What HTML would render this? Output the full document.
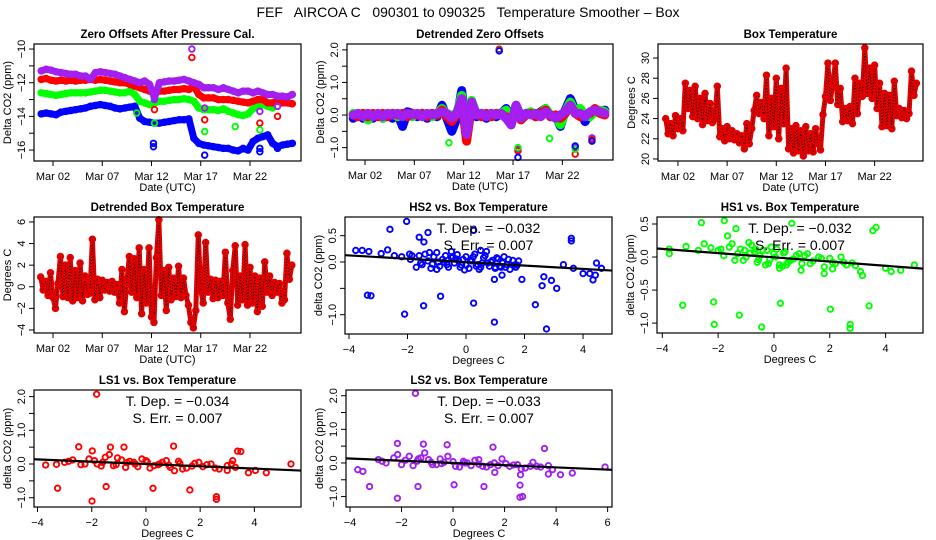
<!DOCTYPE html>
<html><head><meta charset="utf-8"><title>FEF AIRCOA C Temperature Smoother</title>
<style>
html,body{margin:0;padding:0;background:#fff;}
svg{display:block;font-family:"Liberation Sans",sans-serif;}
#main-title{white-space:pre;}
</style></head>
<body>
<svg id="chart" width="936" height="540" viewBox="0 0 936 540" xmlns="http://www.w3.org/2000/svg">
<rect x="0" y="0" width="936" height="540" fill="#fff"/>
<text id="main-title" x="468" y="17" text-anchor="middle" font-size="14" xml:space="preserve">FEF   AIRCOA C   090301 to 090325   Temperature Smoother – Box</text>
</svg>
<script>
// ---------- DATA ----------
const bandDays=[0.8,1.3,1.8,2.3,2.8,3.3,3.8,4.3,4.8,5.3,5.8,6.3,6.8,7.3,7.8,8.3,8.8,9.3,9.8,10.3,10.8,11.3,11.8,12.3,12.8,13.3,13.8,14.3,14.8,15.3,15.8,16.3,16.8,17.3,17.8,18.3,18.8,19.3,19.8,20.3,20.8,21.3,21.8,22.3,22.8,23.3,23.8,24.3,24.8,25.3,25.8,26.3];
const zoPurple=[-11.3,-11.2,-11.25,-11.35,-11.4,-11.45,-11.5,-11.5,-11.6,-11.6,-11.8,-11.4,-11.35,-11.4,-11.45,-11.5,-11.6,-11.7,-11.8,-11.9,-12.0,-11.9,-12.1,-12.9,-12.0,-11.95,-11.9,-11.9,-11.85,-11.8,-11.9,-12.0,-12.1,-12.3,-12.3,-12.3,-12.4,-12.3,-12.4,-12.5,-12.6,-12.5,-12.5,-12.6,-12.5,-12.6,-12.7,-12.7,-12.8,-12.8,-12.85,-12.7];
const zoRed=[-11.8,-11.75,-11.85,-11.9,-11.85,-11.9,-11.85,-11.9,-11.85,-11.85,-11.8,-11.85,-11.8,-11.85,-11.9,-11.95,-12.0,-12.0,-12.1,-12.2,-12.3,-12.4,-12.5,-12.6,-12.5,-12.5,-12.45,-12.4,-12.4,-12.35,-12.4,-12.2,-12.7,-12.9,-12.9,-12.9,-13.0,-13.0,-13.0,-13.05,-13.1,-13.15,-13.2,-13.1,-13.0,-13.0,-13.2,-13.2,-13.1,-13.2,-13.2,-13.25];
const zoGreen=[-12.6,-12.65,-12.7,-12.75,-12.7,-12.65,-12.6,-12.6,-12.6,-12.6,-12.55,-12.5,-12.45,-12.45,-12.5,-12.55,-12.6,-12.6,-12.5,-12.7,-13.1,-13.2,-13.3,-13.2,-13.1,-13.1,-13.05,-13.0,-13.0,-12.95,-13.0,-13.1,-13.5,-13.6,-13.6,-13.6,-13.65,-13.55,-13.7,-13.8,-13.9,-13.95,-13.85,-13.55,-13.4,-13.3,-13.4,-13.5,null,null,null,null];
const zoBlue=[-13.85,-13.8,-13.85,-13.9,-13.75,-13.7,-13.65,-13.6,-13.55,-13.5,-13.4,-13.35,-13.3,-13.35,-13.4,-13.5,-13.55,-13.5,-13.45,-13.4,-14.1,-14.3,-14.35,-14.4,-14.4,-14.35,-14.3,-14.25,-14.2,-14.2,-14.15,-15.3,-15.6,-15.7,-15.75,-15.8,-15.85,-15.9,-15.9,-16.0,-16.05,-15.9,-16.0,-15.5,-15.3,-15.2,-15.1,-15.6,-15.8,-15.7,-15.65,-15.6];
const zoOutDays=[16.1,12.3,17.4,17.4,23.0,24.8, 16.1,12.3,17.4,23.0,24.8, 10.5,12.3,17.4,20.5,23.0, 12.2,12.2,17.4,23.0,23.0,24.8];
const zoOutVals=[-10.0,-13.0,-13.5,-12.3,-13.7,-13.4, -10.5,-13.6,-14.2,-14.4,-14.0, -13.8,-14.4,-14.9,-14.6,-14.8, -15.6,-15.8,-16.3,-15.9,-16.1,-15.9];
const zoOutSeries=["purple","purple","purple","purple","purple","purple","red","red","red","red","red","green","green","green","green","green","blue","blue","blue","blue","blue","blue"];

const dtPurple=[0,0.05,-0.05,0.05,-0.05,0.05,-0.05,0.05,0,0.05,-0.05,0.05,0,0.05,-0.05,0.05,0,0.05,0.1,0.05,-0.1,0.05,0.5,-0.6,0.4,0,0.05,-0.05,0.05,0,0.05,-0.1,-0.3,0.3,-0.1,0.05,0,0.05,-0.05,0.1,0,-0.1,0,0.1,0.3,0.05,0.05,-0.05,0.1,0.15,0.1,0.05];
const dtRed=[0,-0.05,0.05,-0.05,0.05,-0.05,0.05,-0.05,0.05,0,0.05,-0.05,0.05,0,0.05,-0.05,0.05,0,0.15,-0.05,-0.2,0.05,0.45,-0.8,0.3,0.05,-0.05,0.05,-0.05,0.05,0,-0.05,-0.25,0.25,-0.15,0,0.05,-0.05,0.05,0.15,-0.05,0,-0.1,0.05,0.3,0.05,-0.05,0,0.05,0.2,0.05,0];
const dtGreen=[0.05,0,0.05,-0.15,0,0.05,-0.1,0,0.05,-0.05,0,0.05,-0.05,0.05,0,0.05,-0.05,0.05,0.2,0,0,0.05,0.6,-0.7,0.45,0,0.05,0,-0.05,0.05,0.05,0.15,-0.25,0.25,-0.1,0.05,0.1,0,0.05,0.2,0,-0.05,-0.3,0.1,0.4,0.1,0.2,0,-0.05,0.1,0.15,0.1];
const dtBlue=[-0.1,0.05,-0.1,0.05,-0.1,0.05,-0.1,0.05,-0.1,0.05,-0.35,0.1,0.05,-0.05,0.05,-0.1,0.05,-0.05,0.3,-0.1,-0.5,-0.1,0.75,-0.65,0.4,-0.05,0.05,-0.1,0.05,-0.05,0.05,0.2,-0.3,0.3,-0.05,0,0.05,-0.05,0.1,0.2,-0.05,0,-0.35,0.15,0.5,0.15,0.1,-0.2,0.05,0.1,0.1,0.15];
const dtOutDays=[15.6,17.5,23.3,25.0, 15.6,17.5,23.3,25.0, 10.5,15.6,17.5,20.7,23.3, 15.6,17.5,23.3,25.0];
const dtOutVals=[2.0,-1.05,-1.0,-0.7, 2.02,-1.1,-1.2,-0.75, -0.85,1.98,-1.0,-0.72,-1.05, 1.97,-1.3,-0.95,-0.8];
const dtOutSeries=["purple","purple","purple","purple","red","red","red","red","green","green","green","green","green","blue","blue","blue","blue"];

const tDays=[0.75,1,1.25,1.5,1.75,2,2.25,2.5,2.75,3,3.25,3.5,3.75,4,4.25,4.5,4.75,5,5.25,5.5,5.75,6,6.25,6.5,6.75,7,7.25,7.5,7.75,8,8.25,8.5,8.75,9,9.25,9.5,9.75,10,10.25,10.5,10.75,11,11.25,11.5,11.75,12,12.25,12.5,12.75,13,13.25,13.5,13.75,14,14.25,14.5,14.75,15,15.25,15.5,15.75,16,16.25,16.5,16.75,17,17.25,17.5,17.75,18,18.25,18.5,18.75,19,19.25,19.5,19.75,20,20.25,20.5,20.75,21,21.25,21.5,21.75,22,22.25,22.5,22.75,23,23.25,23.5,23.75,24,24.25,24.5,24.75,25,25.25,25.5,25.75,26,26.25];
const boxTemp=[24,22.5,23.5,22.3,24.3,23,24,22.8,27.5,25,26.8,24.2,27.2,24,26,23.4,26.5,23.8,25.5,23.6,24,27.2,22.2,23,21.8,23.2,22,22.8,21.9,22.5,21.6,22.3,21,23.5,21.5,23,24.8,26.3,24.5,25.6,24,28.3,22.3,26,23.2,28,22,27,23.5,29,21,23,20.6,23.3,20.8,22.8,20.3,23.2,20.8,22.5,20.7,23,21.5,20.9,24.4,26.2,29.5,25.8,27.5,29.5,25.4,27,23.7,25,23.8,25.2,23.5,28,24.5,27.5,26.2,31,26.5,29,26,29.3,25,27.5,23.2,26.5,23.3,26.3,23,27.7,24.3,25,24.1,24.8,24,24.5,28.7,26.3,27.5];
const detTemp=[0.9,-0.3,0.5,-0.8,1.3,-1.0,-2.0,0.3,2.8,-0.9,2.0,-1.0,2.7,-1.3,1.5,-1.0,2.2,-1.3,1.0,-0.7,-0.6,4.4,-1.2,0.7,-1.0,0.6,-0.3,0.4,-0.4,0.5,-0.5,0.2,-1.5,1.6,-2.3,0.5,2.8,-0.5,2.6,-1.0,3.6,-2.5,1.6,-1.5,3.6,-2.8,-3.3,2.7,6.2,-0.8,1.5,-2.2,1.8,-1.2,0.8,-0.9,1.9,-1.0,0.8,-0.8,-1.7,-3.3,-3.8,-2.2,4.8,-0.3,-1.5,4.1,-0.5,0.7,-1.1,0.6,-1.0,0.5,-0.8,3.2,-1.5,-3.0,1.5,3.8,-1.7,1.0,-1.2,3.9,-1.7,1.8,-1.5,1.0,-2.3,0.8,-1.8,2.3,-0.5,1.0,-0.8,0.4,-0.5,0.3,-1.5,-1.2,3.1,0.7,2.0];

// scatter: HS2 (blue)
const hs2X=[-2.03,-2.6,-1.3,-1.6,-1.44,0.26,3.6,3.6,-3.37,-3.25,-2.1,-1.45,-0.87,0.26,0.97,0.97,1.23,1.91,2.37,2.6,2.66,2.92,3.1,2.75,4.0,4.23,4.34,4.42,4.46,4.63,3.67,3.33,-3.77,-3.55,-3.32,-2.9,-2.68,-2.45,-2.2,-1.93,
-1.9,-1.7,-1.6,-1.5,-1.4,-1.3,-1.2,-1.1,-1.0,-0.9,-0.8,-0.7,-0.6,-0.5,-0.4,-0.3,-0.2,-0.1,0,0.1,0.2,0.3,0.4,0.5,0.6,0.7,0.8,0.9,1.0,1.1,1.2,1.3,1.4,1.5,1.6,1.7,1.8,-1.85,-1.55,-1.25,-0.95,-0.65,-0.35,-0.05,0.25,0.55,0.85,1.15,1.45,1.75,-1.0,-0.5,0,0.5,1.0,
-0.75,-0.45,-0.15,0.15,0.45,0.75,1.05,1.35,-1.15,-0.25,0.35,0.65,1.25,1.65];
const hs2Y=[0.77,0.62,0.56,0.47,0.38,0.6,0.45,0.4,-0.63,-0.64,-0.99,-0.83,-0.65,-0.78,-0.33,-1.14,-0.25,-0.33,-0.81,-0.45,-0.28,-0.35,-0.5,-1.27,-0.22,-0.22,-0.34,-0.25,-0.02,-0.12,-0.12,-0.05,0.22,0.22,0.2,0.16,0.23,0.12,0.1,0.15,
0.05,-0.1,0.12,-0.05,0.15,0.02,-0.12,0.1,0.18,-0.08,0.05,0.12,-0.1,0.08,-0.02,0.14,-0.1,0.05,0.1,-0.12,0.02,0.15,-0.05,-0.1,0.08,0.2,-0.08,0.03,-0.12,0.06,-0.1,0.1,-0.05,-0.14,0.03,-0.1,0.02,0.12,-0.02,0.18,0.0,-0.05,0.06,-0.15,0.1,-0.02,0.0,-0.08,0.05,-0.06,-0.14,0.2,-0.06,0.22,-0.1,
0.0,0.1,-0.06,0.04,-0.14,-0.02,0.08,-0.1,-0.04,0.02,-0.08,0.12,-0.02,-0.06];
const hs2Stats=[-0.032,0.007,-0.003];
// HS1 (green)
const hs1X=[-2.6,-1.78,-1.66,-1.36,-3.27,-2.16,-2.14,-1.24,-0.44,0.23,2.02,2.73,2.73,3.41,3.54,3.66,0.64,-3.75,-3.75,-3.15,-2.71,5.03,4.54,4.2,4.0,3.17,3.1,2.92,2.8,2.1,0.97,0.2,1.8,-2.5,-2.26,
-2.0,-1.8,-1.6,-1.4,-1.2,-1.0,-0.8,-0.6,-0.4,-0.2,0,0.2,0.4,0.6,0.8,1.0,1.2,1.4,1.6,1.8,2.0,2.2,2.4,2.6,-1.9,-1.5,-1.1,-0.7,-0.3,0.1,0.5,0.9,1.3,1.7,2.1,2.5,-1.3,-0.9,-0.5,-0.1,0.3,0.7,
-0.85,-0.55,-0.25,0.05,0.35,-1.05,-0.65,-0.15,0.45,1.1];
const hs1Y=[0.52,0.55,0.32,0.43,-0.73,-0.68,-1.02,-0.88,-1.06,-0.7,-0.79,-1.02,-1.08,-0.74,0.4,0.45,0.51,0.12,0.05,0.16,0.1,-0.12,-0.2,-0.22,-0.17,-0.28,-0.22,-0.13,-0.09,-0.08,-0.2,-0.17,-0.25,0.2,0.14,
0.1,0.02,0.15,-0.05,0.12,0.0,0.18,-0.08,0.1,-0.1,0.05,-0.12,0.08,-0.05,0.02,-0.1,0.05,-0.06,0.0,-0.15,-0.02,-0.1,0.0,-0.12,0.12,0.2,-0.05,0.08,-0.12,0.12,-0.08,0.05,-0.1,-0.02,-0.18,-0.08,0.05,0.22,0.02,0.15,-0.14,-0.03,
0.06,-0.04,0.1,0.0,0.06,0.1,0.12,-0.04,-0.12,0.02];
const hs1Stats=[-0.032,0.007,-0.005];
// LS1 (red)
const ls1X=[-1.82,-3.26,-1.47,0.26,1.62,2.6,2.6,-1.99,-2.48,-1.31,-0.81,1.02,3.38,3.5,3.78,4.04,4.44,5.35,-3.7,-3.3,-1.98,3.0,3.2,
-3.0,-2.7,-2.4,-2.1,-1.8,-1.5,-1.2,-0.9,-0.6,-0.3,0,0.3,0.6,0.9,1.2,1.5,1.8,2.1,2.4,2.7,3.0,3.3,-2.85,-2.25,-1.65,-1.05,-0.45,0.15,0.75,1.35,1.95,2.55,3.15,-1.35,-0.75,-0.15,0.45,1.05,
-1.9,-1.6,-1.1,-0.7,-0.4,0.05,0.5,0.85,1.25,1.7,2.25];
const ls1Y=[2.07,-0.72,-0.67,-0.72,-0.77,-0.97,-1.05,-1.1,0.51,0.5,0.5,0.53,0.38,0.37,-0.26,-0.19,-0.26,0.0,-0.03,-0.01,0.39,-0.19,0.1,
0.05,0.12,-0.02,0.15,0.0,0.2,-0.05,0.12,0.08,-0.08,0.1,-0.05,0.05,-0.1,0.08,-0.12,0.02,-0.08,0.0,-0.15,-0.05,-0.1,0.08,0.0,-0.06,0.18,0.05,-0.12,0.1,-0.15,0.05,-0.12,0.0,0.28,-0.1,0.15,-0.02,-0.2,
0.1,0.05,-0.02,0.04,0.0,0.06,0.0,-0.04,0.02,-0.06,-0.02];
const ls1Stats=[-0.034,0.007,0.0];
// LS2 (purple)
const ls2X=[-1.46,-2.16,-1.15,-0.23,1.55,3.55,-3.24,-1.36,-2.16,0.04,1.2,2.6,2.6,2.7,3.7,4.17,4.63,5.9,3.86,-3.7,-3.5,1.62,2.62,
-2.9,-2.6,-2.3,-2.0,-1.7,-1.4,-1.1,-0.8,-0.5,-0.2,0.1,0.4,0.7,1.0,1.3,1.6,1.9,2.2,2.5,2.8,3.1,3.4,3.7,-2.75,-2.15,-1.55,-0.95,-0.35,0.25,0.85,1.45,2.05,2.65,3.25,-1.25,-0.65,0.55,1.15,
-1.85,-1.35,-0.85,-0.45,0.0,0.45,1.0,1.75,2.35,3.0];
const ls2Y=[2.07,0.58,0.56,0.54,0.47,0.43,-0.7,-0.7,-1.05,-0.65,-0.7,-0.66,-1.02,-1.0,-0.33,-0.35,-0.3,-0.12,-0.2,-0.2,-0.25,-0.28,-0.35,
0.1,0.0,0.15,-0.05,0.2,0.05,0.3,-0.05,0.12,0.2,-0.1,0.05,-0.08,0.1,-0.12,0.0,0.12,-0.1,-0.05,-0.15,0.02,-0.12,-0.08,0.05,0.25,-0.08,0.1,0.02,-0.12,0.08,-0.05,-0.02,-0.18,-0.1,0.15,-0.05,0.0,-0.1,
0.08,0.12,0.02,-0.02,0.04,0.0,-0.04,-0.08,-0.06,-0.1];
const ls2Stats=[-0.033,0.007,0.0];

const dateTicks=[2,7,12,17,22];
const dateLabels=["Mar 02","Mar 07","Mar 12","Mar 17","Mar 22"];

// ---------- DRAWING ----------
const NS='http://www.w3.org/2000/svg';
const svg=document.getElementById('chart');
const COL={purple:'#a020f0',red:'#ff0000',green:'#00ff00',blue:'#0000ff'};
function add(tag,parent){const e=document.createElementNS(NS,tag);parent.appendChild(e);return e;}

function panel(name,box,xd,yd){
  const g=add('g',svg);
  
  
  const [l,t,r,b]=box;
  const sx=v=>l+(v-xd[0])/(xd[1]-xd[0])*(r-l);
  const sy=v=>b-(v-yd[0])/(yd[1]-yd[0])*(b-t);
  return {g,l,t,r,b,sx,sy};
}
function frame(p,title){
  const rc=add('rect',p.g);
  rc.setAttribute('x',p.l);rc.setAttribute('y',p.t);rc.setAttribute('width',p.r-p.l);rc.setAttribute('height',p.b-p.t);
  rc.setAttribute('fill','none');rc.setAttribute('stroke','#000');rc.setAttribute('stroke-width','1.2');
  
  
  const tt=add('text',p.g);
  tt.setAttribute('x',(p.l+p.r)/2);tt.setAttribute('y',p.t-6);tt.setAttribute('text-anchor','middle');
  tt.setAttribute('font-size','11.5');tt.setAttribute('font-weight','bold');
  tt.textContent=title;
  
  
}
function xAxis(p,ticks,labels,title){
  ticks.forEach((v,i)=>{
    const x=p.sx(v);
    const ln=add('line',p.g);
    ln.setAttribute('x1',x);ln.setAttribute('x2',x);ln.setAttribute('y1',p.b);ln.setAttribute('y2',p.b+5);ln.setAttribute('stroke','#000');
    
    
    const tx=add('text',p.g);
    tx.setAttribute('x',x);tx.setAttribute('y',p.b+19);tx.setAttribute('text-anchor','middle');tx.setAttribute('font-size','11');
    tx.textContent=labels[i];
    
    
  });
  const at=add('text',p.g);
  at.setAttribute('x',(p.l+p.r)/2);at.setAttribute('y',p.b+30);at.setAttribute('text-anchor','middle');at.setAttribute('font-size','11');
  at.textContent=title;
  
  
}
function yAxis(p,ticks,labels,title){
  ticks.forEach((v,i)=>{
    const y=p.sy(v);
    const ln=add('line',p.g);
    ln.setAttribute('x1',p.l-5);ln.setAttribute('x2',p.l);ln.setAttribute('y1',y);ln.setAttribute('y2',y);ln.setAttribute('stroke','#000');
    
    
    if(labels[i]!==''){
      const tx=add('text',p.g);
      const xx=p.l-9;
      tx.setAttribute('x',xx);tx.setAttribute('y',y);tx.setAttribute('text-anchor','middle');tx.setAttribute('font-size','11');
      tx.setAttribute('transform','rotate(-90 '+xx+' '+y+')');
      tx.textContent=labels[i];
      
      
    }
  });
  const at=add('text',p.g);
  const ax=p.l-23, ay=(p.t+p.b)/2;
  at.setAttribute('x',ax);at.setAttribute('y',ay);at.setAttribute('text-anchor','middle');at.setAttribute('font-size','11');
  at.setAttribute('transform','rotate(-90 '+ax+' '+ay+')');
  at.textContent=title;
  
  
}
function dot(p,x,y,color,name,r){
  const c=add('circle',p.g);
  c.setAttribute('cx',p.sx(x));c.setAttribute('cy',p.sy(y));c.setAttribute('r',r||2.6);
  c.setAttribute('fill','none');c.setAttribute('stroke',color);c.setAttribute('stroke-width','1.9');
  
  
}
function band(p,xs,ys,color,name,w,dark){
  let d='';let pen=false;
  xs.forEach((x,i)=>{const y=ys[i]; if(y===null){pen=false;return;} d+=(pen?'L':'M')+p.sx(x).toFixed(1)+' '+p.sy(y).toFixed(1)+' '; pen=true;});
  const pa=add('path',p.g);
  pa.setAttribute('d',d);pa.setAttribute('fill','none');pa.setAttribute('stroke',color);pa.setAttribute('stroke-width',w);
  pa.setAttribute('stroke-linejoin','round');pa.setAttribute('stroke-linecap','round');
  
  
  if(dark){
    const pb=add('path',p.g);
    pb.setAttribute('d',d);pb.setAttribute('fill','none');pb.setAttribute('stroke',dark);pb.setAttribute('stroke-width','1');
    pb.setAttribute('stroke-dasharray','1 2');
    
    
  }
  xs.forEach((x,i)=>{ if(ys[i]!==null) dot(p,x,ys[i],color,name+'-point',2.8); });
}
function scatter(p,xs,ys,color,name,stats){
  xs.forEach((x,i)=>dot(p,x,ys[i],color,name,2.7));
  const inv=px=>{let lo=-100,hi=100; for(let k=0;k<60;k++){const m=(lo+hi)/2; if(p.sx(m)<px) lo=m; else hi=m;} return lo; };
  const xa=inv(p.l), xb=inv(p.r);
  const ln=add('line',p.g);
  ln.setAttribute('x1',p.sx(xa));ln.setAttribute('y1',p.sy(stats[2]+stats[0]*xa));
  ln.setAttribute('x2',p.sx(xb));ln.setAttribute('y2',p.sy(stats[2]+stats[0]*xb));
  ln.setAttribute('stroke','#000');ln.setAttribute('stroke-width','2.2');
  
  
  const t1=add('text',p.g);
  t1.setAttribute('x',(p.l+p.r)/2+10);t1.setAttribute('y',p.t+16);t1.setAttribute('text-anchor','middle');t1.setAttribute('font-size','14');
  t1.setAttribute('xml:space','preserve');
  t1.textContent='T. Dep. =  '+(stats[0]<0?'\u2212':'')+Math.abs(stats[0]).toFixed(3);
  
  
  const t2=add('text',p.g);
  t2.setAttribute('x',(p.l+p.r)/2+10);t2.setAttribute('y',p.t+33);t2.setAttribute('text-anchor','middle');t2.setAttribute('font-size','14');
  t2.textContent='S. Err. = '+stats[1].toFixed(3);
  
  
}

// Panel 1
const p1=panel('zero-offsets-panel',[34,44,301,161],[0.07,27.18],[-16.65,-9.70]);
band(p1,bandDays,zoBlue,COL.blue,'blue-offset',7);
band(p1,bandDays,zoGreen,COL.green,'green-offset',7);
band(p1,bandDays,zoRed,COL.red,'red-offset',7);
band(p1,bandDays,zoPurple,COL.purple,'purple-offset',7,'#ff00ff');
zoOutDays.forEach((d,i)=>dot(p1,d,zoOutVals[i],COL[zoOutSeries[i]],'offset-outlier',2.8));
frame(p1,'Zero Offsets After Pressure Cal.');
xAxis(p1,dateTicks,dateLabels,'Date (UTC)');
yAxis(p1,[-10,-11,-12,-13,-14,-15,-16],['\u221210','','\u221212','','\u221214','','\u221216'],'Delta CO2 (ppm)');

// Panel 2
const p2=panel('detrended-zero-offsets-panel',[347,44,613,160],[0.176,27.13],[-1.38,2.18]);
band(p2,bandDays,dtBlue,COL.blue,'blue-detrended',9);
band(p2,bandDays,dtGreen,COL.green,'green-detrended',9);
band(p2,bandDays,dtRed,COL.red,'red-detrended',9);
band(p2,bandDays,dtPurple,COL.purple,'purple-detrended',9,'#ff00ff');
dtOutDays.forEach((d,i)=>dot(p2,d,dtOutVals[i],COL[dtOutSeries[i]],'detrended-outlier',2.8));
frame(p2,'Detrended Zero Offsets');
xAxis(p2,dateTicks,dateLabels,'Date (UTC)');
yAxis(p2,[2,1.5,1,0.5,0,-0.5,-1],['2.0','','1.0','','0.0','','\u22121.0'],'Delta CO2 (ppm)');

// Panel 3
const p3=panel('box-temperature-panel',[658,44,923,161],[-0.03,26.92],[19.8,31.39]);
band(p3,tDays,boxTemp,'#e00000','box-temperature',5,'#000');
frame(p3,'Box Temperature');
xAxis(p3,dateTicks,dateLabels,'Date (UTC)');
yAxis(p3,[20,22,24,26,28,30],['20','22','24','26','28','30'],'Degrees C');

// Panel 4
const p4=panel('detrended-box-temperature-panel',[34,217,301,333],[0.07,27.18],[-4.28,6.46]);
band(p4,tDays,detTemp,'#e00000','detrended-temperature',5,'#000');
frame(p4,'Detrended Box Temperature');
xAxis(p4,dateTicks,dateLabels,'Date (UTC)');
yAxis(p4,[-4,-2,0,2,4,6],['\u22124','\u22122','0','2','4','6'],'Degrees C');

// Panel 5 HS2
const p5=panel('hs2-vs-temperature-panel',[345,217,612,334],[-4.137,4.99],[-1.366,0.854]);
scatter(p5,hs2X,hs2Y,COL.blue,'hs2-point',hs2Stats);
frame(p5,'HS2 vs. Box Temperature');
xAxis(p5,[-4,-2,0,2,4],['\u22124','\u22122','0','2','4'],'Degrees C');
yAxis(p5,[0.5,0,-0.5,-1],['0.5','0.0','','\u22121.0'],'delta CO2 (ppm)');

// Panel 6 HS1
const p6=panel('hs1-vs-temperature-panel',[657,217,923,333],[-4.19,5.34],[-1.15,0.606]);
scatter(p6,hs1X,hs1Y,COL.green,'hs1-point',hs1Stats);
frame(p6,'HS1 vs. Box Temperature');
xAxis(p6,[-4,-2,0,2,4],['\u22124','\u22122','0','2','4'],'Degrees C');
yAxis(p6,[0.5,0,-0.5,-1],['0.5','0.0','\u22120.5','\u22121.0'],'delta CO2 (ppm)');

// Panel 7 LS1
const p7=panel('ls1-vs-temperature-panel',[34,390,301,507],[-4.13,5.72],[-1.276,2.196]);
scatter(p7,ls1X,ls1Y,COL.red,'ls1-point',ls1Stats);
frame(p7,'LS1 vs. Box Temperature');
xAxis(p7,[-4,-2,0,2,4],['\u22124','\u22122','0','2','4'],'Degrees C');
yAxis(p7,[2,1.5,1,0.5,0,-0.5,-1],['2.0','','1.0','','0.0','','\u22121.0'],'delta CO2 (ppm)');

// Panel 8 LS2
const p8=panel('ls2-vs-temperature-panel',[346,390,612,507],[-4.155,6.17],[-1.31,2.17]);
scatter(p8,ls2X,ls2Y,COL.purple,'ls2-point',ls2Stats);
frame(p8,'LS2 vs. Box Temperature');
xAxis(p8,[-4,-2,0,2,4,6],['\u22124','\u22122','0','2','4','6'],'Degrees C');
yAxis(p8,[2,1.5,1,0.5,0,-0.5,-1],['2.0','','1.0','','0.0','','\u22121.0'],'delta CO2 (ppm)');
</script>
</body></html>
